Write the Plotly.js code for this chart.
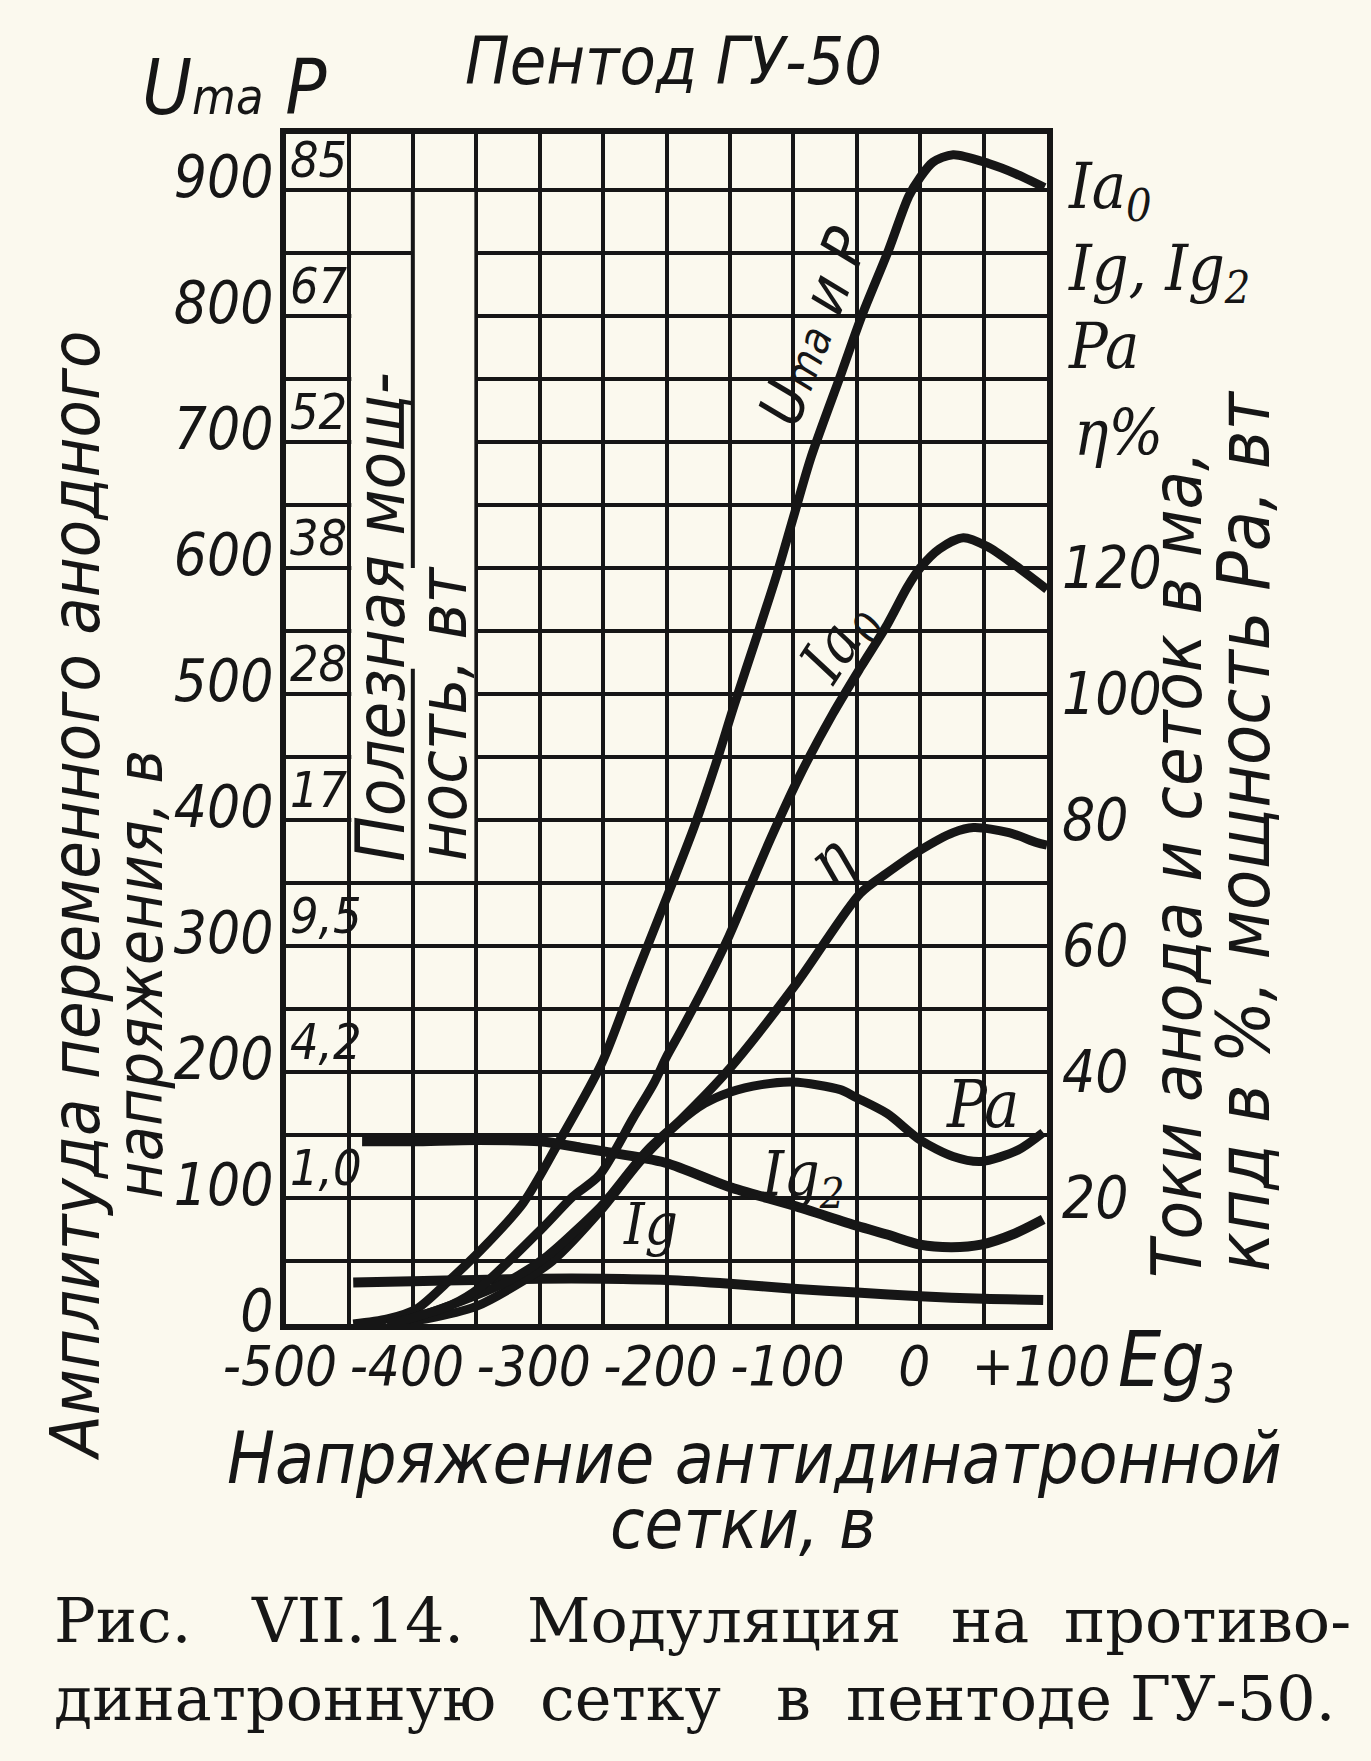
<!DOCTYPE html>
<html>
<head>
<meta charset="utf-8">
<script src="https://cdn.plot.ly/plotly-3.0.1.min.js"></script>
<style>
  body { margin: 0; background: #fbf9ee; }
  #chart { width: 1371px; height: 1761px; }
</style>
</head>
<body>
<div id="chart"></div>
<script>
// Пентод ГУ-50, values

// grid voltage Eg3, volts, and anode voltage amplitude Uma (left axis)
const umaX = [-447, -420, -397, -373, -347, -313, -284, -251, -226, -200, -178, -160, -147, -129, -113, -100, -86, -62, -46, -25, -9, 0, 10, 26, 54, 75, 98];
const umaY = [0, 4, 12, 33, 58, 96, 146, 207, 272, 338, 395, 448, 490, 545, 595, 640, 688, 755, 800, 852, 895, 910, 922, 928, 921, 913, 902];

// anode current Ia0, ma (right axis)
const ia0X = [-420, -400, -370, -347, -297, -274, -253, -226, -210, -200, -189, -170, -152, -135, -118, -95, -69, -47, -26, -10, 0, 15, 34, 53, 75, 100];
const ia0Y = [0, 1, 3, 5.8, 15.4, 20.2, 23.6, 32.8, 38.2, 42.4, 46.4, 53.6, 61, 69, 77, 87, 96.8, 104.2, 111, 117, 120, 123, 124.8, 123.4, 120.4, 116.6];

// efficiency, %
const etaX = [-420, -400, -370, -323, -294, -252, -245, -215, -189, -150, -97, -47, -26, 0, 26, 42, 70, 92, 100];
const etaY = [0, 1, 3, 7, 10.8, 18.6, 20.2, 27.6, 32.4, 40.6, 54.2, 68.4, 71.6, 75.2, 78, 78.8, 78, 76.4, 76];

// anode dissipation Pa, W
const paX = [-420, -390, -350, -320, -290, -252, -220, -190, -170, -150, -125, -100, -63, -51, -26, 0, 26, 48, 77, 97];
const paY = [0, 0.8, 2.8, 6, 10, 18, 26, 32, 35, 36.8, 38, 38.4, 37.2, 36, 33.4, 29.2, 26.6, 25.8, 27.6, 30.4];

// screen grid current Ig2, ma
const ig2X = [-440, -400, -350, -300, -268, -250, -201, -151, -100, -50, -26, 0, 25, 48, 75, 97];
const ig2Y = [29, 29, 29.2, 29, 28, 27.4, 25.6, 21.8, 18.8, 15.6, 14.2, 12.6, 12.2, 12.6, 14.4, 16.6];

// control grid current Ig, ma
const igX = [-447, -400, -350, -300, -250, -200, -150, -100, -50, 0, 50, 97];
const igY = [6.6, 6.8, 7, 7.2, 7.2, 7, 6.4, 5.6, 5, 4.4, 4, 3.8];

// tick labels and the in-between grid lines
const xTickVals = [-500, -400, -300, -200, -100, 0, 100];
const xTickText = ['-500', '-400', '-300', '-200', '-100', '0', '+100'];
const xMinorVals = [-450, -350, -250, -150, -50, 50];
const yTickVals = [0, 100, 200, 300, 400, 500, 600, 700, 800, 900];
const yTickText = ['0', '100', '200', '300', '400', '500', '600', '700', '800', '900'];
const yMinorVals = [50, 150, 250, 350, 450, 550, 650, 750, 850];
const y2TickVals = [20, 40, 60, 80, 100, 120];
const y2TickText = ['20', '40', '60', '80', '100', '120'];

// useful power scale written in the first column, W
const powerAt = [900, 800, 700, 600, 500, 400, 300, 200, 100];
const powerText = ['85', '67', '52', '38', '28', '17', '9,5', '4,2', '1,0'];

const INK = '#161616';
const PAPER = '#fbf9ee';
const COND = 'DejaVu Sans Condensed, DejaVu Sans, sans-serif';
const SERIFI = 'DejaVu Serif Condensed, DejaVu Serif, serif';
const SERIF = 'DejaVu Serif, Liberation Serif, serif';
const GRIDW = 4;

// plot box in page pixels
const L = 286, R = 1047, T = 134, B = 1324;

function fnt(family, size, italic) {
    return {family: family, size: size, color: INK, style: italic ? 'italic' : 'normal'};
}

// text placed by page pixel position
function pageText(text, px, py, family, size, opts) {
    return Object.assign({
        text: text,
        xref: 'paper', yref: 'paper',
        x: (px - L) / (R - L),
        y: (B - py) / (B - T),
        xanchor: 'center', yanchor: 'middle',
        showarrow: false,
        font: fnt(family, size, true)
    }, opts || {});
}

// text placed in data coordinates of the left axis
function dataText(text, x, y, family, size, opts) {
    return Object.assign({
        text: text, xref: 'x', yref: 'y', x: x, y: y,
        xanchor: 'center', yanchor: 'middle',
        showarrow: false,
        font: fnt(family, size, true)
    }, opts || {});
}

function curve(x, y, axis, width) {
    return {
        x: x, y: y, yaxis: axis,
        type: 'scatter', mode: 'lines',
        line: {color: INK, width: width, shape: 'spline', smoothing: 0.8},
        hoverinfo: 'skip'
    };
}

const data = [
    curve(igX, igY, 'y2', 10),
    curve(ig2X, ig2Y, 'y2', 10),
    curve(paX, paY, 'y2', 9),
    curve(etaX, etaY, 'y2', 9),
    curve(ia0X, ia0Y, 'y2', 9),
    curve(umaX, umaY, 'y', 9)
];

const annotations = [];

annotations.push(pageText('Пентод ГУ-50', 673, 62, COND, 66));
annotations.push(pageText("U<span style='font-size:50px'>ma</span> P", 140, 88, COND, 76, {xanchor: 'left'}));

// axis titles
annotations.push(pageText('Амплитуда переменного анодного', 76, 896, COND, 68, {textangle: -90}));
annotations.push(pageText('напряжения, в', 140, 975, COND, 64, {textangle: -90}));
annotations.push(pageText('Токи анода и сеток в ма,', 1177, 865, COND, 70, {textangle: -90}));
annotations.push(pageText('кпд в %, мощность Pa, вт', 1243, 832, COND, 73, {textangle: -90}));
annotations.push(pageText('Напряжение антидинатронной', 754, 1458, COND, 71));
annotations.push(pageText('сетки, в', 743, 1524, COND, 70));
annotations.push(pageText('Eg<sub>3</sub>', 1116, 1365, COND, 76, {xanchor: 'left'}));

// names of the right axis quantities
annotations.push(pageText('Ia<sub>0</sub>', 1066, 190, SERIFI, 64, {xanchor: 'left'}));
annotations.push(pageText('Ig, Ig<sub>2</sub>', 1066, 272, SERIFI, 64, {xanchor: 'left'}));
annotations.push(pageText('Pa', 1066, 346, SERIFI, 64, {xanchor: 'left'}));
annotations.push(pageText('η%', 1072, 433, SERIFI, 64, {xanchor: 'left'}));

// caption, word by word to keep the justified look
const capWords1 = ['Рис.', 'VII.14.', 'Модуляция', 'на', 'противо-'];
const capLeft1 = [52, 249, 525, 949, 1062];
const capWords2 = ['динатронную', 'сетку', 'в', 'пентоде', 'ГУ-50.'];
const capLeft2 = [52, 538, 774, 844, 1128];
capWords1.forEach((w, i) => {
    annotations.push(pageText(w, capLeft1[i], 1620, SERIF, 62, {xanchor: 'left', font: fnt(SERIF, 62, false)}));
});
capWords2.forEach((w, i) => {
    annotations.push(pageText(w, capLeft2[i], 1698, SERIF, 62, {xanchor: 'left', font: fnt(SERIF, 62, false)}));
});

// useful power scale
powerAt.forEach((v, i) => {
    annotations.push(dataText(powerText[i], -498, v, COND, 50, {xanchor: 'left', yanchor: 'bottom', borderpad: 0}));
});
annotations.push(dataText('Полезная мощ-', -426, 561, COND, 68, {textangle: -90}));
annotations.push(dataText('ность, вт', -376, 485, COND, 68, {textangle: -90}));

// curve names inside the grid
annotations.push(dataText("U<span style='font-size:44px'>ma</span> и P", -84, 792, COND, 60, {textangle: -69}));
annotations.push(dataText('Ia<sub>0</sub>', -63, 540, SERIFI, 62, {textangle: -57}));
annotations.push(dataText('η', -71, 368, SERIFI, 64, {textangle: -40}));
annotations.push(dataText('Pa', 49, 174, SERIFI, 66));
annotations.push(dataText('Ig<sub>2</sub>', -92, 116, SERIFI, 62));
annotations.push(dataText('Ig', -213, 79, SERIFI, 58));

// blank box for the power caption, drawn over the grid but under the curves
const shapes = [
    {type: 'rect', xref: 'x', yref: 'y', x0: -448.5, x1: -351.5, y0: 351.6, y1: 898.4,
     fillcolor: PAPER, line: {width: 0}, layer: 'between'},
    {type: 'line', xref: 'x', yref: 'y', x0: -400, x1: -400, y0: 898.4, y1: 600,
     line: {color: INK, width: GRIDW}, layer: 'between'},
    {type: 'line', xref: 'x', yref: 'y', x0: -400, x1: -400, y0: 520, y1: 351.6,
     line: {color: INK, width: GRIDW}, layer: 'between'},
    {type: 'line', xref: 'x', yref: 'y', x0: -450, x1: -400, y0: 850, y1: 850,
     line: {color: INK, width: GRIDW}, layer: 'between'}
];

const layout = {
    width: 1371,
    height: 1761,
    margin: {l: L, r: 1371 - R, t: T, b: 1761 - B, pad: 0},
    paper_bgcolor: PAPER,
    plot_bgcolor: PAPER,
    showlegend: false,
    xaxis: {
        range: [-500, 100],
        tickmode: 'array', tickvals: xTickVals, ticktext: xTickText,
        ticks: '', ticklen: 0, tickangle: 0, ticklabelstandoff: -12, ticklabelshift: -6,
        tickfont: fnt(COND, 56, true),
        showgrid: true, gridcolor: INK, gridwidth: GRIDW,
        minor: {tickmode: 'array', tickvals: xMinorVals, ticks: '', showgrid: true, gridcolor: INK, gridwidth: GRIDW},
        zeroline: false,
        showline: true, mirror: true, linecolor: INK, linewidth: 6
    },
    yaxis: {
        range: [0, 944.4],
        tickmode: 'array', tickvals: yTickVals, ticktext: yTickText,
        ticks: '', ticklen: 0, ticklabelstandoff: -5, ticklabelshift: -13,
        tickfont: fnt(COND, 58, true),
        showgrid: true, gridcolor: INK, gridwidth: GRIDW,
        minor: {tickmode: 'array', tickvals: yMinorVals, ticks: '', showgrid: true, gridcolor: INK, gridwidth: GRIDW},
        zeroline: false,
        showline: true, mirror: true, linecolor: INK, linewidth: 6
    },
    yaxis2: {
        overlaying: 'y', side: 'right',
        range: [0, 944.4 / 5],
        tickmode: 'array', tickvals: y2TickVals, ticktext: y2TickText,
        ticks: '', ticklabelstandoff: 14,
        tickfont: fnt(COND, 58, true),
        showgrid: false, zeroline: false, showline: false
    },
    annotations: annotations,
    shapes: shapes
};

Plotly.newPlot('chart', data, layout, {staticPlot: true});
</script>
</body>
</html>
